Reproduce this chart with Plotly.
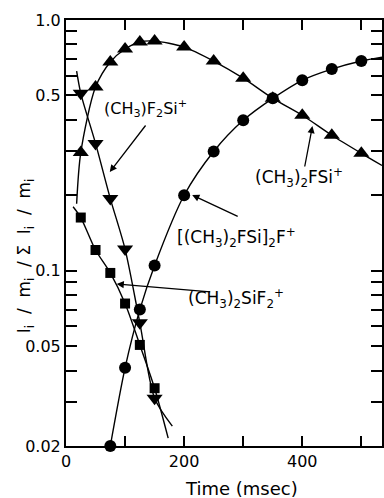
import math
import plotly.graph_objects as go

# ---- data ----
t_up = [25, 50, 75, 100, 125, 150, 200, 250, 300, 350, 400, 450, 500]
v_up = [0.296, 0.54, 0.68, 0.766, 0.817, 0.824, 0.78, 0.686, 0.586, 0.487, 0.417, 0.347, 0.294]
curve_up_t = [18, 25, 50, 75, 100, 125, 150, 200, 250, 300, 350, 400, 450, 500, 535]
curve_up_v = [0.185, 0.296, 0.54, 0.68, 0.766, 0.817, 0.824, 0.78, 0.686, 0.586, 0.487, 0.417, 0.347, 0.294, 0.263]

t_circ = [75, 100, 125, 150, 200, 250, 300, 350, 400, 450, 500]
v_circ = [0.02, 0.041, 0.07, 0.105, 0.2, 0.299, 0.398, 0.487, 0.575, 0.637, 0.686]
curve_circ_t = [75, 100, 125, 150, 200, 250, 300, 350, 400, 450, 500, 535]
curve_circ_v = [0.02, 0.041, 0.07, 0.105, 0.2, 0.299, 0.398, 0.487, 0.575, 0.637, 0.686, 0.71]

t_down = [25, 50, 75, 100, 125, 150]
v_down = [0.51, 0.322, 0.194, 0.122, 0.062, 0.031]
curve_down_t = [18, 25, 50, 75, 100, 125, 150, 180]
curve_down_v = [0.625, 0.51, 0.322, 0.194, 0.122, 0.062, 0.031, 0.024]

t_sq = [25, 50, 75, 100, 125, 150]
v_sq = [0.163, 0.121, 0.098, 0.074, 0.0506, 0.034]
curve_sq_t = [12, 25, 50, 75, 100, 125, 150, 173]
curve_sq_v = [0.18, 0.163, 0.121, 0.098, 0.074, 0.0506, 0.034, 0.0215]

x_ticks = [0, 200, 400]
x_ticktext = ["0", "200", "400"]
x_minor = [100, 300, 500]
y_ticks = [0.02, 0.05, 0.1, 0.5, 1.0]
y_ticktext = ["0.02", "0.05", "0.1", "0.5", "1.0"]
y_minor = [0.03, 0.04, 0.06, 0.07, 0.08, 0.09, 0.2, 0.3, 0.4, 0.6, 0.7, 0.8, 0.9]

# ---- layout geometry ----
W, H = 384, 498
L, T, R, B = 66, 20, 0, 52
PW, PH = W - L - R, H - T - B


def px(xp):
    return (xp - L) / PW


def py(yp):
    return 1 - (yp - T) / PH


FONT = "DejaVu Sans"
fig = go.Figure()

line_style = dict(color="black", width=1.4, shape="spline", smoothing=0.8)
for ct, cv in [(curve_up_t, curve_up_v), (curve_circ_t, curve_circ_v),
               (curve_down_t, curve_down_v), (curve_sq_t, curve_sq_v)]:
    fig.add_trace(go.Scatter(x=ct, y=cv, mode="lines", line=line_style,
                             showlegend=False, hoverinfo="skip", cliponaxis=True))

for tt, vv, sym, sz in [(t_up, v_up, "triangle-up", 14), (t_circ, v_circ, "circle", 12),
                        (t_down, v_down, "triangle-down", 14), (t_sq, v_sq, "square", 10)]:
    fig.add_trace(go.Scatter(x=tt, y=vv, mode="markers",
                             marker=dict(symbol=sym, size=sz, color="black"),
                             showlegend=False, cliponaxis=False))

ann = []
labels = [
    ("(CH<sub>3</sub>)F<sub>2</sub>Si<sup>+</sup>", 146, 108, 16),
    ("(CH<sub>3</sub>)<sub>2</sub>FSi<sup>+</sup>", 300, 177, 17),
    ("[(CH<sub>3</sub>)<sub>2</sub>FSi]<sub>2</sub>F<sup>+</sup>", 238, 238, 17),
    ("(CH<sub>3</sub>)<sub>2</sub>SiF<sub>2</sub><sup>+</sup>", 237, 298, 17),
]
for txt, xp, yp, fs in labels:
    ann.append(dict(text=txt, x=px(xp), y=py(yp), xref="paper", yref="paper",
                    showarrow=False, font=dict(family=FONT, size=fs, color="black"),
                    xanchor="center", yanchor="middle"))

arrows = [
    ((147, 124), (110, 172)),
    ((306, 168), (314, 126)),
    ((240, 217), (193, 195)),
    ((212, 292), (117, 284)),
]
for (tx, ty), (hx, hy) in arrows:
    ann.append(dict(text="", x=px(hx), y=py(hy), xref="paper", yref="paper",
                    ax=tx - hx, ay=ty - hy, axref="pixel", ayref="pixel",
                    showarrow=True, arrowhead=2, arrowsize=1.1, arrowwidth=1.3,
                    arrowcolor="black"))

S = "\u00a0"
ann.append(dict(text=f"I<sub>i</sub>{S}{S}/{S}{S}m<sub>i</sub>{S}{S}/{S}Σ{S}{S}I<sub>i</sub>{S}{S}/{S}{S}m<sub>i</sub>",
                x=px(25), y=py(256), xref="paper", yref="paper", showarrow=False,
                textangle=-90, font=dict(family=FONT, size=17, color="black"),
                xanchor="center", yanchor="middle"))
ann.append(dict(text="Time (msec)", x=px(243), y=py(488), xref="paper", yref="paper",
                showarrow=False, font=dict(family=FONT, size=18, color="black"),
                xanchor="center", yanchor="middle"))

fig.update_layout(
    width=W, height=H,
    margin=dict(l=L, r=R, t=T, b=B, pad=0),
    paper_bgcolor="white", plot_bgcolor="white",
    annotations=ann,
    xaxis=dict(range=[0, 535], tickvals=x_ticks, ticktext=x_ticktext,
               ticks="inside", ticklen=10, tickwidth=2, tickcolor="black",
               showline=True, linewidth=2, linecolor="black", mirror="ticks",
               showgrid=False, zeroline=False,
               minor=dict(tickvals=x_minor, ticks="inside", ticklen=10, tickwidth=2,
                          tickcolor="black", showgrid=False),
               tickfont=dict(family=FONT, size=16, color="black")),
    yaxis=dict(type="log", range=[math.log10(0.02), 0], tickvals=y_ticks, ticktext=y_ticktext,
               ticks="inside", ticklen=11, tickwidth=2, tickcolor="black",
               showline=True, linewidth=2, linecolor="black", mirror="ticks",
               showgrid=False, zeroline=False,
               minor=dict(tickvals=y_minor, ticks="inside", ticklen=11, tickwidth=2,
                          tickcolor="black", showgrid=False),
               tickfont=dict(family=FONT, size=16, color="black")),
)

fig.write_html("out.html")
